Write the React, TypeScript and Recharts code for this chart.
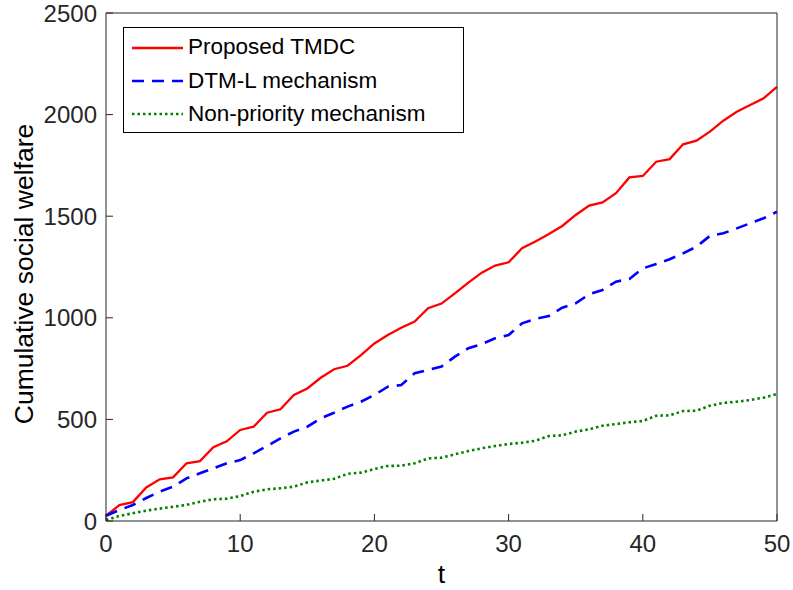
import React from "react";
import { LineChart, Line, XAxis, YAxis, Legend } from "recharts";

const FONT = '"Liberation Sans", Arial, Helvetica, sans-serif';
const AXIS_COLOR = "#262626";

// time slots
const tValues = [
  0, 1, 2, 3, 4, 5, 6, 7, 8, 9, 10, 11, 12, 13, 14, 15, 16, 17, 18, 19, 20, 21, 22, 23, 24, 25,
  26, 27, 28, 29, 30, 31, 32, 33, 34, 35, 36, 37, 38, 39, 40, 41, 42, 43, 44, 45, 46, 47, 48, 49, 50,
];

// cumulative social welfare per mechanism
const proposedTmdc = [
  26, 78, 93, 165, 205, 215, 284, 295, 363, 392, 448, 464, 533, 550, 620, 652, 705, 747, 764, 816,
  874, 915, 951, 981, 1047, 1070, 1120, 1173, 1222, 1257, 1273, 1342, 1375, 1412, 1452, 1506, 1552,
  1568, 1613, 1691, 1698, 1768, 1781, 1854, 1872, 1916, 1970, 2014, 2047, 2080, 2137,
];
const dtmL = [
  26, 54, 79, 113, 144, 169, 210, 235, 259, 284, 300, 333, 369, 407, 440, 464, 505, 533, 563, 587,
  620, 661, 669, 727, 743, 760, 809, 850, 871, 899, 915, 973, 995, 1009, 1050, 1071, 1116, 1137,
  1178, 1191, 1243, 1265, 1288, 1317, 1350, 1403, 1416, 1440, 1465, 1490, 1522,
];
const nonPriority = [
  5, 25, 38, 51, 61, 70, 79, 95, 107, 110, 123, 144, 156, 161, 169, 190, 199, 208, 232, 238, 256,
  271, 272, 284, 308, 312, 328, 344, 358, 369, 379, 385, 395, 418, 422, 440, 451, 469, 477, 486,
  492, 518, 520, 541, 543, 567, 581, 587, 595, 607, 625,
];

const xTicks = [0, 10, 20, 30, 40, 50];
const yTicks = [0, 500, 1000, 1500, 2000, 2500];

const seriesOrder = ["proposed", "dtm", "nonPriority"];

const data = tValues.map((t, i) => ({
  t,
  proposed: proposedTmdc[i],
  dtm: dtmL[i],
  nonPriority: nonPriority[i],
}));

const dashes: Record<string, string | undefined> = {
  proposed: undefined,
  dtm: "12 8",
  nonPriority: "2.5 3",
};

const widths: Record<string, number> = {
  proposed: 2.3,
  dtm: 2.6,
  nonPriority: 2.6,
};

function BoxLegend({ payload }: any) {
  const items = [...(payload || [])].sort(
    (a: any, b: any) => seriesOrder.indexOf(a.dataKey) - seriesOrder.indexOf(b.dataKey)
  );
  return (
    <div
      style={{
        boxSizing: "border-box",
        width: 341,
        height: 106,
        border: "1px solid #000",
        background: "#fff",
        padding: "3px 8px 2px 8px",
        fontFamily: FONT,
        fontSize: 22.5,
        color: "#000",
      }}
    >
      {items.map((entry: any) => (
        <div key={entry.dataKey} style={{ display: "flex", alignItems: "center", height: 33.3 }}>
          <svg width={51} height={10} style={{ flex: "none" }}>
            <line
              x1={0}
              y1={5}
              x2={51}
              y2={5}
              stroke={entry.color}
              strokeWidth={widths[entry.dataKey]}
              strokeDasharray={dashes[entry.dataKey]}
            />
          </svg>
          <span style={{ marginLeft: 5, lineHeight: 1, whiteSpace: "nowrap" }}>{entry.value}</span>
        </div>
      ))}
    </div>
  );
}

const YTitle = ({ viewBox }: any) => {
  const cx = viewBox.x + 33;
  const cy = 274;
  return (
    <text
      x={cx}
      y={cy}
      transform={`rotate(-90 ${cx} ${cy})`}
      textAnchor="middle"
      fontFamily={FONT}
      fontSize={26.5}
      fill="#000"
    >
      Cumulative social welfare
    </text>
  );
};

const XTitle = ({ viewBox }: any) => {
  const cx = viewBox.x + viewBox.width / 2;
  return (
    <text x={cx} y={583} textAnchor="middle" fontFamily={FONT} fontSize={26.5} fill="#000">
      t
    </text>
  );
};

const tickStyle = { fontFamily: FONT, fontSize: 24, fill: AXIS_COLOR };
const axisLine = { stroke: AXIS_COLOR, strokeWidth: 1 };

export default function App() {
  return (
    <div style={{ position: "absolute", left: 0, top: 0, background: "#fff" }}>
      <LineChart
        width={793}
        height={590}
        data={data}
        margin={{ top: 12, right: 15, bottom: 0, left: 0 }}
      >
        <XAxis
          dataKey="t"
          type="number"
          domain={[0, 50]}
          ticks={xTicks}
          height={69}
          axisLine={axisLine}
          tickLine={axisLine}
          tickSize={-7}
          tickMargin={21}
          tick={tickStyle}
          label={<XTitle />}
        />
        <XAxis
          xAxisId="top"
          orientation="top"
          dataKey="t"
          type="number"
          domain={[0, 50]}
          ticks={xTicks}
          height={1}
          axisLine={axisLine}
          tickLine={axisLine}
          tickSize={-7}
          tick={false}
        />
        <YAxis
          type="number"
          domain={[0, 2500]}
          ticks={yTicks}
          width={106}
          axisLine={axisLine}
          tickLine={axisLine}
          tickSize={-7}
          tickMargin={16}
          tick={tickStyle}
          label={<YTitle />}
        />
        <YAxis
          yAxisId="right"
          orientation="right"
          type="number"
          domain={[0, 2500]}
          ticks={yTicks}
          width={1}
          axisLine={axisLine}
          tickLine={axisLine}
          tickSize={-7}
          tick={false}
        />
        <Legend
          layout="vertical"
          align="center"
          verticalAlign="middle"
          wrapperStyle={{ left: 123, top: 27, width: 341, height: 106 }}
          content={<BoxLegend />}
        />
        <Line
          type="linear"
          dataKey="proposed"
          name="Proposed TMDC"
          stroke="#ff0000"
          strokeWidth={widths.proposed}
          dot={false}
          isAnimationActive={false}
        />
        <Line
          type="linear"
          dataKey="dtm"
          name="DTM-L mechanism"
          stroke="#0000ff"
          strokeWidth={widths.dtm}
          strokeDasharray={dashes.dtm}
          dot={false}
          isAnimationActive={false}
        />
        <Line
          type="linear"
          dataKey="nonPriority"
          name="Non-priority mechanism"
          stroke="#008000"
          strokeWidth={widths.nonPriority}
          strokeDasharray={dashes.nonPriority}
          dot={false}
          isAnimationActive={false}
        />
      </LineChart>
    </div>
  );
}
